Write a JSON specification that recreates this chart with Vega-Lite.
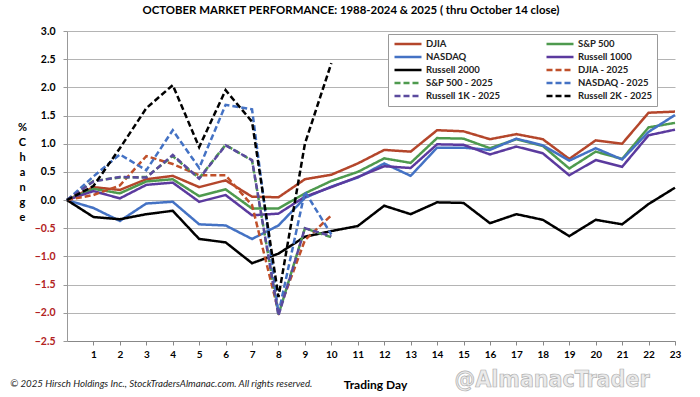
{
  "$schema": "https://vega.github.io/schema/vega-lite/v6.json",
  "width": 608,
  "height": 310,
  "autosize": {"type": "none"},
  "padding": {"left": 67, "top": 31, "right": 25, "bottom": 56},
  "background": "white",
  "title": {
    "text": "OCTOBER MARKET PERFORMANCE: 1988-2024 & 2025 ( thru October 14 close)",
    "font": "Lato", "fontSize": 11.4, "fontWeight": "bold", "color": "#000",
    "anchor": "middle", "frame": "group", "dx": -20, "offset": 10
  },
  "config": {"view": {"stroke": null}, "font": "Lato", "axis": {"labelOverlap": false}},
  "datasets": {
    "main": [
      {"day":0,"series":"DJIA","value":0},{"day":1,"series":"DJIA","value":0.23},{"day":2,"series":"DJIA","value":0.18},{"day":3,"series":"DJIA","value":0.37},{"day":4,"series":"DJIA","value":0.43},{"day":5,"series":"DJIA","value":0.23},{"day":6,"series":"DJIA","value":0.35},{"day":7,"series":"DJIA","value":0.06},{"day":8,"series":"DJIA","value":0.05},{"day":9,"series":"DJIA","value":0.37},{"day":10,"series":"DJIA","value":0.45},{"day":11,"series":"DJIA","value":0.65},{"day":12,"series":"DJIA","value":0.89},{"day":13,"series":"DJIA","value":0.86},{"day":14,"series":"DJIA","value":1.24},{"day":15,"series":"DJIA","value":1.22},{"day":16,"series":"DJIA","value":1.08},{"day":17,"series":"DJIA","value":1.17},{"day":18,"series":"DJIA","value":1.08},{"day":19,"series":"DJIA","value":0.73},{"day":20,"series":"DJIA","value":1.06},{"day":21,"series":"DJIA","value":1.0},{"day":22,"series":"DJIA","value":1.55},{"day":23,"series":"DJIA","value":1.57},
      {"day":0,"series":"S&P 500","value":0},{"day":1,"series":"S&P 500","value":0.2},{"day":2,"series":"S&P 500","value":0.12},{"day":3,"series":"S&P 500","value":0.33},{"day":4,"series":"S&P 500","value":0.37},{"day":5,"series":"S&P 500","value":0.07},{"day":6,"series":"S&P 500","value":0.19},{"day":7,"series":"S&P 500","value":-0.15},{"day":8,"series":"S&P 500","value":-0.15},{"day":9,"series":"S&P 500","value":0.12},{"day":10,"series":"S&P 500","value":0.34},{"day":11,"series":"S&P 500","value":0.5},{"day":12,"series":"S&P 500","value":0.74},{"day":13,"series":"S&P 500","value":0.66},{"day":14,"series":"S&P 500","value":1.1},{"day":15,"series":"S&P 500","value":1.09},{"day":16,"series":"S&P 500","value":0.92},{"day":17,"series":"S&P 500","value":1.08},{"day":18,"series":"S&P 500","value":0.96},{"day":19,"series":"S&P 500","value":0.56},{"day":20,"series":"S&P 500","value":0.86},{"day":21,"series":"S&P 500","value":0.73},{"day":22,"series":"S&P 500","value":1.29},{"day":23,"series":"S&P 500","value":1.37},
      {"day":0,"series":"NASDAQ","value":0},{"day":1,"series":"NASDAQ","value":-0.14},{"day":2,"series":"NASDAQ","value":-0.37},{"day":3,"series":"NASDAQ","value":-0.06},{"day":4,"series":"NASDAQ","value":-0.03},{"day":5,"series":"NASDAQ","value":-0.43},{"day":6,"series":"NASDAQ","value":-0.45},{"day":7,"series":"NASDAQ","value":-0.69},{"day":8,"series":"NASDAQ","value":-0.45},{"day":9,"series":"NASDAQ","value":0.04},{"day":10,"series":"NASDAQ","value":0.24},{"day":11,"series":"NASDAQ","value":0.4},{"day":12,"series":"NASDAQ","value":0.65},{"day":13,"series":"NASDAQ","value":0.43},{"day":14,"series":"NASDAQ","value":0.93},{"day":15,"series":"NASDAQ","value":0.93},{"day":16,"series":"NASDAQ","value":0.89},{"day":17,"series":"NASDAQ","value":1.09},{"day":18,"series":"NASDAQ","value":0.97},{"day":19,"series":"NASDAQ","value":0.7},{"day":20,"series":"NASDAQ","value":0.92},{"day":21,"series":"NASDAQ","value":0.72},{"day":22,"series":"NASDAQ","value":1.21},{"day":23,"series":"NASDAQ","value":1.51},
      {"day":0,"series":"Russell 1000","value":0},{"day":1,"series":"Russell 1000","value":0.16},{"day":2,"series":"Russell 1000","value":0.03},{"day":3,"series":"Russell 1000","value":0.27},{"day":4,"series":"Russell 1000","value":0.31},{"day":5,"series":"Russell 1000","value":-0.03},{"day":6,"series":"Russell 1000","value":0.09},{"day":7,"series":"Russell 1000","value":-0.27},{"day":8,"series":"Russell 1000","value":-0.24},{"day":9,"series":"Russell 1000","value":0.06},{"day":10,"series":"Russell 1000","value":0.23},{"day":11,"series":"Russell 1000","value":0.41},{"day":12,"series":"Russell 1000","value":0.6},{"day":13,"series":"Russell 1000","value":0.57},{"day":14,"series":"Russell 1000","value":0.99},{"day":15,"series":"Russell 1000","value":0.98},{"day":16,"series":"Russell 1000","value":0.81},{"day":17,"series":"Russell 1000","value":0.95},{"day":18,"series":"Russell 1000","value":0.83},{"day":19,"series":"Russell 1000","value":0.44},{"day":20,"series":"Russell 1000","value":0.71},{"day":21,"series":"Russell 1000","value":0.59},{"day":22,"series":"Russell 1000","value":1.15},{"day":23,"series":"Russell 1000","value":1.25},
      {"day":0,"series":"Russell 2000","value":0},{"day":1,"series":"Russell 2000","value":-0.3},{"day":2,"series":"Russell 2000","value":-0.34},{"day":3,"series":"Russell 2000","value":-0.25},{"day":4,"series":"Russell 2000","value":-0.19},{"day":5,"series":"Russell 2000","value":-0.69},{"day":6,"series":"Russell 2000","value":-0.75},{"day":7,"series":"Russell 2000","value":-1.12},{"day":8,"series":"Russell 2000","value":-0.95},{"day":9,"series":"Russell 2000","value":-0.65},{"day":10,"series":"Russell 2000","value":-0.55},{"day":11,"series":"Russell 2000","value":-0.46},{"day":12,"series":"Russell 2000","value":-0.1},{"day":13,"series":"Russell 2000","value":-0.25},{"day":14,"series":"Russell 2000","value":-0.04},{"day":15,"series":"Russell 2000","value":-0.05},{"day":16,"series":"Russell 2000","value":-0.41},{"day":17,"series":"Russell 2000","value":-0.25},{"day":18,"series":"Russell 2000","value":-0.35},{"day":19,"series":"Russell 2000","value":-0.64},{"day":20,"series":"Russell 2000","value":-0.35},{"day":21,"series":"Russell 2000","value":-0.43},{"day":22,"series":"Russell 2000","value":-0.07},{"day":23,"series":"Russell 2000","value":0.22},
      {"day":0,"series":"DJIA - 2025","value":0},{"day":1,"series":"DJIA - 2025","value":0.09},{"day":2,"series":"DJIA - 2025","value":0.26},{"day":3,"series":"DJIA - 2025","value":0.78},{"day":4,"series":"DJIA - 2025","value":0.64},{"day":5,"series":"DJIA - 2025","value":0.44},{"day":6,"series":"DJIA - 2025","value":0.44},{"day":7,"series":"DJIA - 2025","value":-0.09},{"day":8,"series":"DJIA - 2025","value":-1.98},{"day":9,"series":"DJIA - 2025","value":-0.71},{"day":10,"series":"DJIA - 2025","value":-0.27},
      {"day":0,"series":"S&P 500 - 2025","value":0},{"day":1,"series":"S&P 500 - 2025","value":0.34},{"day":2,"series":"S&P 500 - 2025","value":0.4},{"day":3,"series":"S&P 500 - 2025","value":0.41},{"day":4,"series":"S&P 500 - 2025","value":0.78},{"day":5,"series":"S&P 500 - 2025","value":0.39},{"day":6,"series":"S&P 500 - 2025","value":0.98},{"day":7,"series":"S&P 500 - 2025","value":0.7},{"day":8,"series":"S&P 500 - 2025","value":-2.03},{"day":9,"series":"S&P 500 - 2025","value":-0.5},{"day":10,"series":"S&P 500 - 2025","value":-0.66},
      {"day":0,"series":"NASDAQ - 2025","value":0},{"day":1,"series":"NASDAQ - 2025","value":0.42},{"day":2,"series":"NASDAQ - 2025","value":0.81},{"day":3,"series":"NASDAQ - 2025","value":0.53},{"day":4,"series":"NASDAQ - 2025","value":1.24},{"day":5,"series":"NASDAQ - 2025","value":0.57},{"day":6,"series":"NASDAQ - 2025","value":1.69},{"day":7,"series":"NASDAQ - 2025","value":1.61},{"day":8,"series":"NASDAQ - 2025","value":-2.01},{"day":9,"series":"NASDAQ - 2025","value":0.15},{"day":10,"series":"NASDAQ - 2025","value":-0.61},
      {"day":0,"series":"Russell 1K - 2025","value":0},{"day":1,"series":"Russell 1K - 2025","value":0.33},{"day":2,"series":"Russell 1K - 2025","value":0.41},{"day":3,"series":"Russell 1K - 2025","value":0.4},{"day":4,"series":"Russell 1K - 2025","value":0.8},{"day":5,"series":"Russell 1K - 2025","value":0.38},{"day":6,"series":"Russell 1K - 2025","value":0.97},{"day":7,"series":"Russell 1K - 2025","value":0.71},{"day":8,"series":"Russell 1K - 2025","value":-2.05},{"day":9,"series":"Russell 1K - 2025","value":-0.5},{"day":10,"series":"Russell 1K - 2025","value":-0.64},
      {"day":0,"series":"Russell 2K - 2025","value":0},{"day":1,"series":"Russell 2K - 2025","value":0.25},{"day":2,"series":"Russell 2K - 2025","value":0.92},{"day":3,"series":"Russell 2K - 2025","value":1.63},{"day":4,"series":"Russell 2K - 2025","value":2.04},{"day":5,"series":"Russell 2K - 2025","value":0.94},{"day":6,"series":"Russell 2K - 2025","value":1.95},{"day":7,"series":"Russell 2K - 2025","value":1.39},{"day":8,"series":"Russell 2K - 2025","value":-1.72},{"day":9,"series":"Russell 2K - 2025","value":1.0},{"day":10,"series":"Russell 2K - 2025","value":2.43}
    ],
    "notes": [
      {"note": "© 2025 Hirsch Holdings Inc., StockTradersAlmanac.com. All rights reserved."}
    ],
    "mark": [
      {"note": "@AlmanacTrader"}
    ]
  },
  "layer": [
    {
      "data": {"name": "main"},
      "mark": {"type": "line", "strokeWidth": 2.5, "clip": false},
      "encoding": {
        "x": {
          "field": "day", "type": "quantitative",
          "scale": {"domain": [0, 23], "nice": false, "zero": false},
          "axis": {
            "title": "Trading Day", "titleFont": "Lato", "titleFontSize": 12, "titleFontWeight": "bold", "titleColor": "#000",
            "titleX": 308, "titleY": 43, "titleBaseline": "middle",
            "values": [1,2,3,4,5,6,7,8,9,10,11,12,13,14,15,16,17,18,19,20,21,22,23],
            "tickCount": 40,
            "format": "d", "grid": false, "labelOverlap": false, "labelFlush": false,
            "labelFont": "Lato", "labelFontSize": 10, "labelFontWeight": "bold", "labelColor": "#000", "labelPadding": 4,
            "tickSize": 4, "tickColor": "#888", "domainColor": "#888"
          }
        },
        "y": {
          "field": "value", "type": "quantitative",
          "scale": {"domain": [-2.5, 3], "nice": false, "zero": false},
          "axis": {
            "title": ["%", "", "C", "h", "a", "n", "g", "e"],
            "titleAngle": 0, "titleX": -45, "titleY": 90, "titleAlign": "center", "titleBaseline": "top",
            "titleFont": "Lato", "titleFontSize": 11, "titleFontWeight": "bold", "titleColor": "#000", "titleLineHeight": 15,
            "values": [-2.5, -2, -1.5, -1, -0.5, 0, 0.5, 1, 1.5, 2, 2.5, 3],
            "tickCount": 40,
            "format": ".1f", "labelOverlap": false, "labelFlush": false,
            "labelFont": "Lato", "labelFontSize": 10.5, "labelFontWeight": "bold", "labelPadding": 8,
            "labelColor": {"condition": {"test": "datum.value < 0", "value": "#b22222"}, "value": "#000"},
            "tickSize": 4, "tickColor": "#999", "domainColor": "#999",
            "grid": true, "gridColor": "#b4b4b4", "gridWidth": 1
          }
        },
        "color": {
          "field": "series", "type": "nominal",
          "scale": {
            "domain": ["DJIA", "NASDAQ", "Russell 2000", "S&P 500 - 2025", "Russell 1K - 2025", "S&P 500", "Russell 1000", "DJIA - 2025", "NASDAQ - 2025", "Russell 2K - 2025"],
            "range": ["#b4462b", "#4472c4", "#000000", "#4e9a4e", "#5b4a9e", "#4e9a4e", "#5b3a9e", "#c0502a", "#4472c4", "#000000"]
          },
          "legend": {
            "orient": "none", "legendX": 321, "legendY": 3, "columns": 2, "title": null,
            "symbolType": "stroke", "symbolSize": 729, "symbolStrokeWidth": 2.5, "clipHeight": 10,
            "rowPadding": 3, "columnPadding": 45, "labelOffset": 3, "labelAlign": "left",
            "labelFont": "Lato", "labelFontSize": 9.5, "labelFontWeight": "bold", "labelColor": "#222",
            "strokeColor": "#999", "fillColor": "white", "padding": 5
          }
        },
        "strokeDash": {
          "field": "series", "type": "nominal",
          "scale": {
            "domain": ["DJIA", "NASDAQ", "Russell 2000", "S&P 500 - 2025", "Russell 1K - 2025", "S&P 500", "Russell 1000", "DJIA - 2025", "NASDAQ - 2025", "Russell 2K - 2025"],
            "range": [[1, 0], [1, 0], [1, 0], [6, 3], [6, 3], [1, 0], [1, 0], [6, 3], [6, 3], [6, 3]]
          },
          "legend": {
            "orient": "none", "legendX": 321, "legendY": 3, "columns": 2, "title": null,
            "symbolType": "stroke", "symbolSize": 729, "symbolStrokeWidth": 2.5, "clipHeight": 10,
            "rowPadding": 3, "columnPadding": 45, "labelOffset": 3, "labelAlign": "left",
            "labelFont": "Lato", "labelFontSize": 9.5, "labelFontWeight": "bold", "labelColor": "#222",
            "strokeColor": "#999", "fillColor": "white", "padding": 5
          }
        }
      }
    },
    {
      "data": {"name": "notes"},
      "mark": {"type": "text", "align": "left", "baseline": "middle", "font": "Lato", "fontSize": 9.7, "fontStyle": "italic", "color": "#222", "clip": false},
      "encoding": {
        "x": {"datum": -2.15, "type": "quantitative", "scale": {"domain": [0, 23], "nice": false, "zero": false}},
        "y": {"datum": -3.26, "type": "quantitative", "scale": {"domain": [-2.5, 3], "nice": false, "zero": false}},
        "text": {"field": "note"}
      }
    },
    {
      "data": {"name": "mark"},
      "mark": {"type": "text", "align": "center", "baseline": "middle", "font": "DejaVu Sans Condensed", "fontSize": 23, "fontWeight": "bold", "color": "#ebebeb", "stroke": "#b0b0b0", "strokeWidth": 0.7, "clip": false},
      "encoding": {
        "x": {"datum": 18.35, "type": "quantitative", "scale": {"domain": [0, 23], "nice": false, "zero": false}},
        "y": {"datum": -3.2, "type": "quantitative", "scale": {"domain": [-2.5, 3], "nice": false, "zero": false}},
        "text": {"field": "note"}
      }
    }
  ]
}
